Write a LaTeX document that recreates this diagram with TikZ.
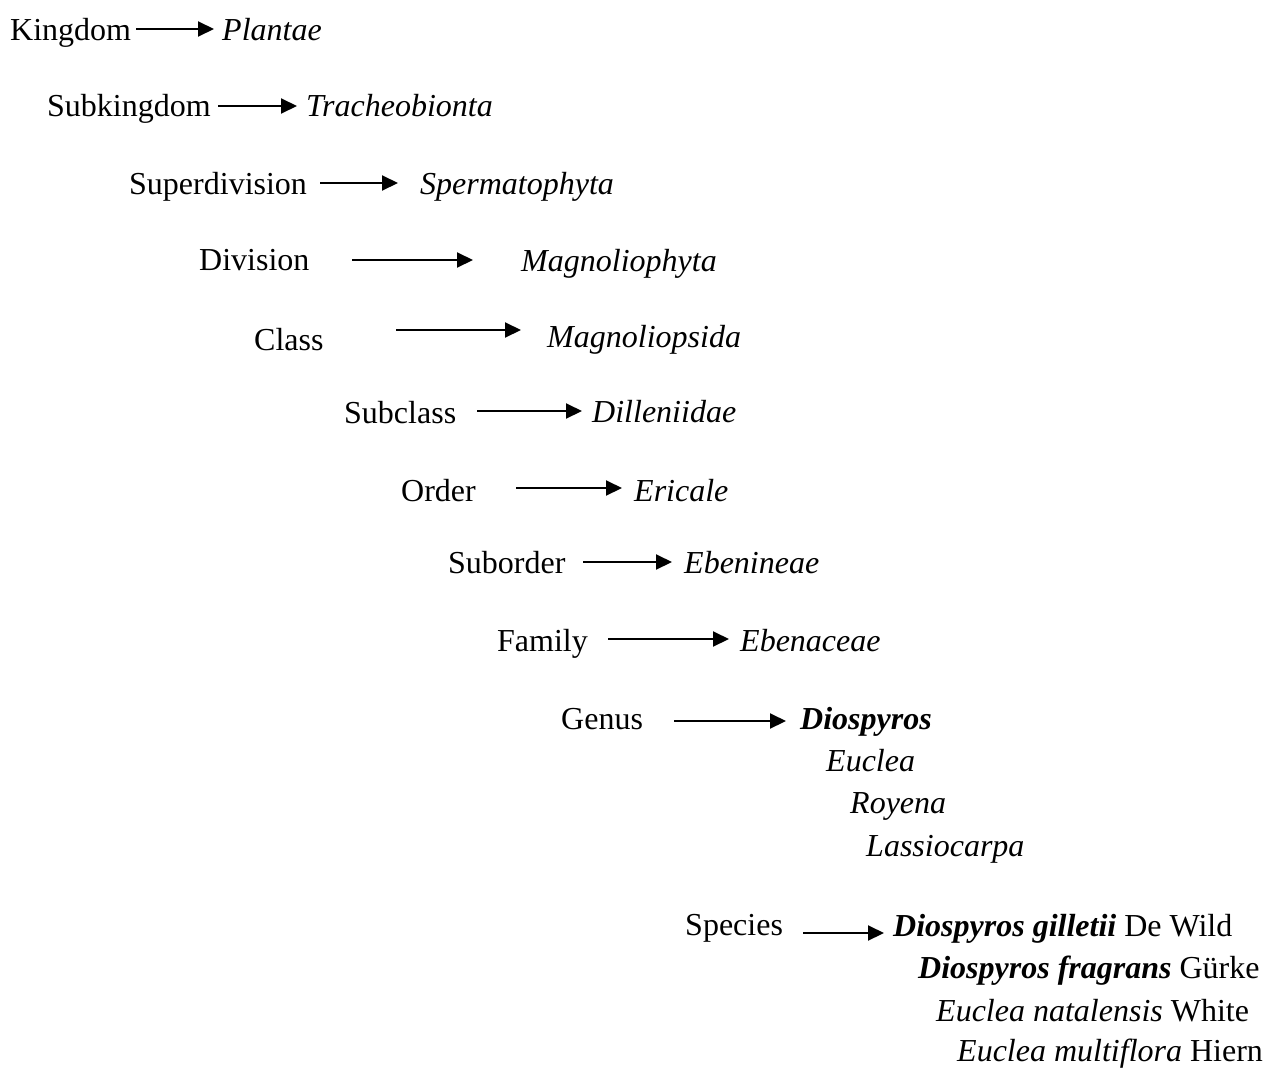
\documentclass[tikz,border=0pt]{standalone}
\usepackage{fontspec}
\setmainfont{Liberation Serif}
\usetikzlibrary{arrows.meta}
\begin{document}
\begin{tikzpicture}[x=1pt,y=-1pt,
  lbl/.style={anchor=base west,inner sep=0pt,font=\fontsize{32}{38}\selectfont},
  val/.style={lbl,font=\fontsize{32}{38}\selectfont\itshape},
  bval/.style={lbl,font=\fontsize{32}{38}\selectfont\bfseries\itshape},
  arr/.style={line width=2pt,-{Triangle[length=16pt,width=15pt]}}]
\useasboundingbox (0,0) rectangle (1268,1068);
% labels
\node[lbl] (kingdom) at (10,40) {Kingdom};
\node[lbl] (subkingdom) at (47,116) {Subkingdom};
\node[lbl] (superdiv) at (129,194) {Superdivision};
\node[lbl] (division) at (199,270) {Division};
\node[lbl] (class) at (254,350) {Class};
\node[lbl] (subclass) at (344,423) {Subclass};
\node[lbl] (order) at (401,501) {Order};
\node[lbl] (suborder) at (448,573) {Suborder};
\node[lbl] (family) at (497,651) {Family};
\node[lbl] (genus) at (561,729) {Genus};
\node[lbl] (species) at (685,935) {Species};
% values
\node[val] (plantae) at (222,40) {Plantae};
\node[val] (trach) at (306,116) {Tracheobionta};
\node[val] (sperm) at (420,194) {Spermatophyta};
\node[val] (magnoliophyta) at (521,271) {Magnoliophyta};
\node[val] (magnoliopsida) at (547,347) {Magnoliopsida};
\node[val] (dill) at (592,422) {Dilleniidae};
\node[val] (ericale) at (634,501) {Ericale};
\node[val] (ebenineae) at (684,573) {Ebenineae};
\node[val] (ebenaceae) at (740,651) {Ebenaceae};
\node[bval] (diospyros) at (800,729) {Diospyros};
\node[val] (euclea) at (826,771) {Euclea};
\node[val] (royena) at (850,813) {Royena};
\node[val] (lassio) at (866,856) {Lassiocarpa};
\node[lbl] (sp1) at (893,936) {\textbf{\textit{Diospyros gilletii}} De Wild};
\node[lbl] (sp2) at (918,978) {\textbf{\textit{Diospyros fragrans}} Gürke};
\node[lbl] (sp3) at (936,1021) {\textit{Euclea natalensis} White};
\node[lbl] (sp4) at (957,1061) {\textit{Euclea multiflora} Hiern};
% arrow end points
\coordinate (a1s) at (136,29);  \coordinate (a1e) at (214,29);
\coordinate (a2s) at (218,106); \coordinate (a2e) at (297,106);
\coordinate (a3s) at (320,183); \coordinate (a3e) at (398,183);
\coordinate (a4s) at (352,260); \coordinate (a4e) at (473,260);
\coordinate (a5s) at (396,330); \coordinate (a5e) at (521,330);
\coordinate (a6s) at (477,411); \coordinate (a6e) at (582,411);
\coordinate (a7s) at (516,488); \coordinate (a7e) at (622,488);
\coordinate (a8s) at (583,562); \coordinate (a8e) at (672,562);
\coordinate (a9s) at (608,639); \coordinate (a9e) at (729,639);
\coordinate (a10s) at (674,721); \coordinate (a10e) at (786,721);
\coordinate (a11s) at (803,933); \coordinate (a11e) at (884,933);
\foreach \i in {1,...,11} \draw[arr] (a\i s) -- (a\i e);
\end{tikzpicture}
\end{document}
